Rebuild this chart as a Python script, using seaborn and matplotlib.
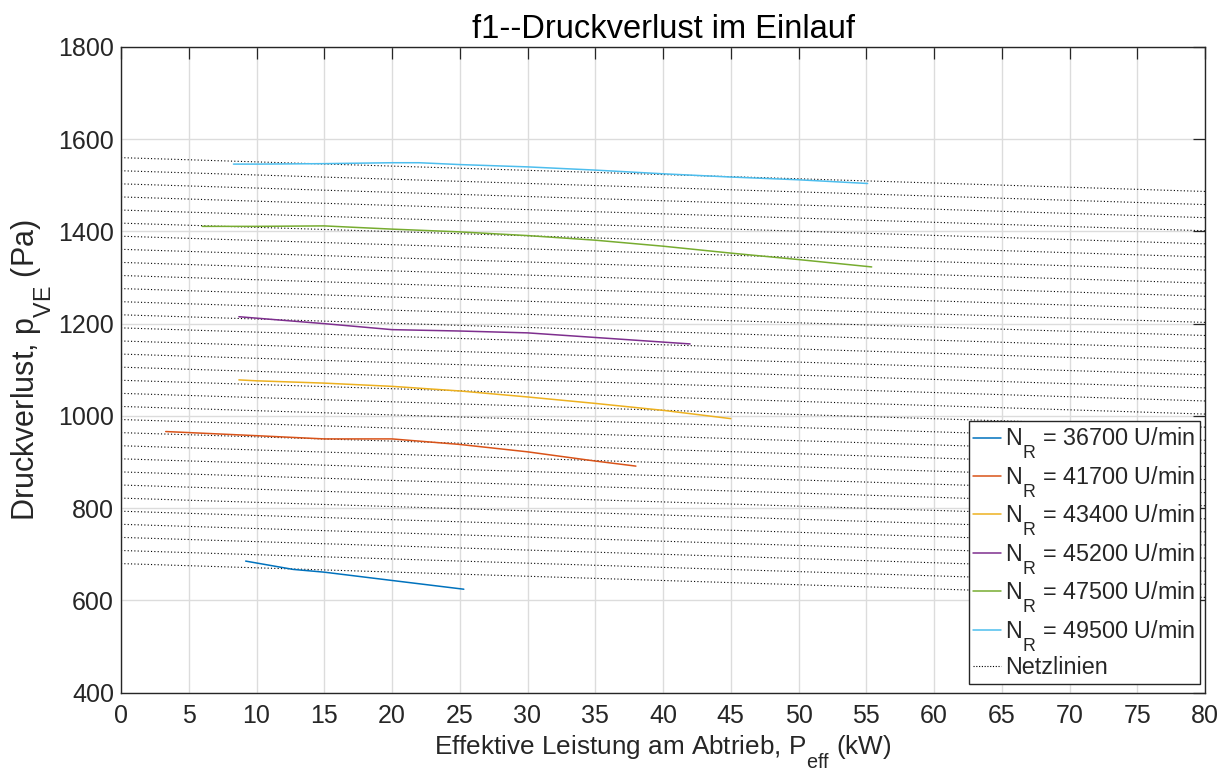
import numpy as np
import pandas as pd
import matplotlib
matplotlib.use("Agg")
import matplotlib.pyplot as plt
from matplotlib.lines import Line2D
import seaborn as sns

# Speed lines: effective output power (kW) and inlet pressure loss (Pa)
speeds = [36700, 41700, 43400, 45200, 47500, 49500]

x_36700 = [9.2, 12.7, 15.0, 20.0, 25.3]
p_36700 = [685, 667, 661, 643, 624]

x_41700 = [3.3, 10.0, 15.0, 20.0, 25.0, 30.0, 35.0, 38.0]
p_41700 = [966, 957, 950, 950, 938, 922, 902, 891]

x_43400 = [8.7, 10.0, 15.0, 20.0, 25.0, 30.0, 35.0, 40.0, 45.0]
p_43400 = [1078, 1076, 1071, 1064, 1054, 1041, 1027, 1012, 994]

x_45200 = [8.7, 15.0, 20.0, 25.0, 30.0, 35.0, 40.0, 42.0]
p_45200 = [1215, 1200, 1187, 1184, 1180, 1170, 1160, 1156]

x_47500 = [6.0, 10.0, 15.0, 20.0, 25.0, 30.0, 35.0, 40.0, 45.0, 50.0, 55.4]
p_47500 = [1411, 1411, 1412, 1405, 1399, 1391, 1381, 1368, 1353, 1339, 1323]

x_49500 = [8.3, 10.0, 15.0, 20.0, 22.0, 25.0, 30.0, 35.0, 40.0, 45.0, 50.0, 55.1]
p_49500 = [1546, 1546, 1547, 1549, 1549, 1545, 1540, 1533, 1525, 1518, 1512, 1504]

# Mesh lines ("Netzlinien"): pressure at P = 0 kW and at P = 80 kW
net_x = [0.0, 80.0]
net_p_start = [1560.0, 1531.6, 1503.2, 1474.8, 1446.4, 1418.0, 1389.6, 1361.2,
               1332.8, 1304.4, 1276.0, 1247.6, 1219.2, 1190.8, 1162.4, 1134.0,
               1105.6, 1077.2, 1048.8, 1020.4, 992.0, 963.6, 935.2, 906.8,
               878.4, 850.0, 821.6, 793.2, 764.8, 736.4, 708.0, 679.6]
net_p_end = [1486.7, 1458.3, 1429.9, 1401.5, 1373.1, 1344.7, 1316.3, 1287.9,
             1259.5, 1231.1, 1202.7, 1174.3, 1145.9, 1117.5, 1089.1, 1060.7,
             1032.3, 1003.9, 975.5, 947.1, 918.7, 890.3, 861.9, 833.5,
             805.1, 776.7, 748.3, 719.9, 691.5, 663.1, 634.7, 606.3]

x_ticks = list(range(0, 81, 5))
y_ticks = list(range(400, 1801, 200))

colors = ["#0072BD", "#D95319", "#EDB120", "#7E2F8E", "#77AC30", "#4DBEEE"]

# Larger, lower subscripts (TeX-interpreter look)
try:
    import matplotlib._mathtext as _mt
    _mt.SHRINK_FACTOR = 0.76
    _mt.FontConstantsBase.sub1 = 1.05
    _mt.FontConstantsBase.subdrop = 1.05
except Exception:
    pass

sns.set_style("white")
plt.rcParams["font.family"] = ["Liberation Sans", "DejaVu Sans"]
plt.rcParams["mathtext.fontset"] = "custom"
plt.rcParams["mathtext.rm"] = "Liberation Sans"
plt.rcParams["mathtext.it"] = "Liberation Sans"
plt.rcParams["mathtext.default"] = "regular"

series_x = [x_36700, x_41700, x_43400, x_45200, x_47500, x_49500]
series_p = [p_36700, p_41700, p_43400, p_45200, p_47500, p_49500]
labels = [f"N$_R$ = {s} U/min" for s in speeds]

frames = []
for lab, xs, ps in zip(labels, series_x, series_p):
    frames.append(pd.DataFrame({"P": xs, "p": ps, "speed": lab}))
df = pd.concat(frames, ignore_index=True)

net_rows = []
for i, (a, b) in enumerate(zip(net_p_start, net_p_end)):
    net_rows.append({"P": net_x[0], "p": a, "line": i})
    net_rows.append({"P": net_x[1], "p": b, "line": i})
net_df = pd.DataFrame(net_rows)

fig = plt.figure(figsize=(12.31, 7.71), dpi=100)
ax = fig.add_axes([121 / 1231, 1 - 692.5 / 771, (1205 - 121) / 1231, (692.5 - 47) / 771])

# mesh lines
sns.lineplot(data=net_df, x="P", y="p", units="line", estimator=None,
             color="black", linestyle=(0, (1, 2)), linewidth=0.8, ax=ax,
             legend=False, sort=False)

# speed lines
sns.lineplot(data=df, x="P", y="p", hue="speed", hue_order=labels,
             palette=colors, estimator=None, sort=False, linewidth=1.1,
             ax=ax, legend=False)

ax.set_xlim(0, 80)
ax.set_ylim(400, 1800)
ax.set_xticks(x_ticks)
ax.set_yticks(y_ticks)
ax.grid(True, color="#dcdcdc", linewidth=1.0)
ax.set_axisbelow(True)
for sp in ax.spines.values():
    sp.set_color("#262626")
    sp.set_linewidth(1.0)
ax.tick_params(axis="both", which="major", direction="in", length=8.5,
               width=0.9, colors="#262626", labelsize=18,
               top=True, right=True)
ax.tick_params(axis="x", pad=8)
ax.tick_params(axis="y", pad=5)
for lbl in ax.get_xticklabels() + ax.get_yticklabels():
    lbl.set_color("#262626")

ax.set_title("f1--Druckverlust im Einlauf", fontsize=23.5, color="black", pad=6.5)
ax.set_xlabel("Effektive Leistung am Abtrieb, P$_{eff}$ (kW)", fontsize=18.8,
              color="#262626", labelpad=4)
ax.set_ylabel("Druckverlust, p$_{VE}$ (Pa)", fontsize=22, color="#262626",
              labelpad=3)

handles = [Line2D([0], [0], color=c, linewidth=1.1) for c in colors]
handles.append(Line2D([0], [0], color="black", linestyle=(0, (1, 1.5)), linewidth=0.8))
leg = ax.legend(handles, labels + ["Netzlinien"], loc="lower right",
                bbox_to_anchor=(0.9955, 0.013), fontsize=16.8, frameon=True,
                fancybox=False, framealpha=1, edgecolor="#262626",
                handlelength=1.2, handletextpad=0.17, labelspacing=0.12,
                borderpad=0.2, borderaxespad=0.0)
leg.get_frame().set_linewidth(1.0)

fig.savefig("out.png", dpi=100)
